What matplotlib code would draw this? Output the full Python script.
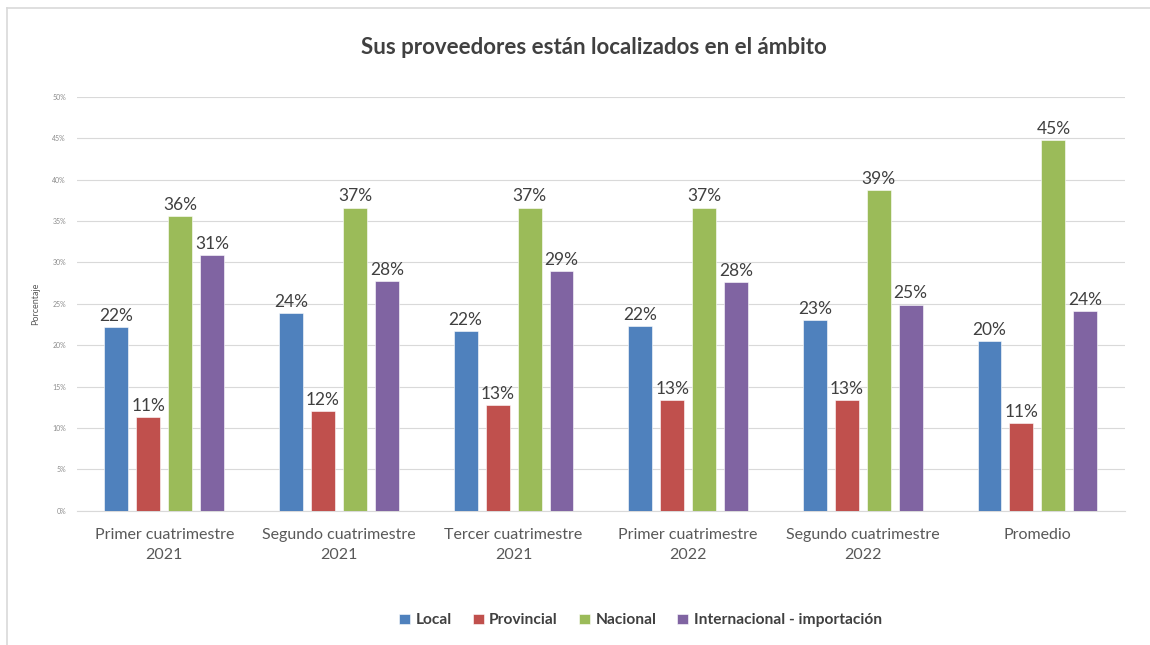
"""Grouped bar chart: ámbito de los proveedores por cuatrimestre."""

import matplotlib

matplotlib.use("Agg")

import matplotlib.pyplot as plt
import numpy as np
from matplotlib.lines import Line2D
from matplotlib.ticker import PercentFormatter

periods = [
    "Primer cuatrimestre\n2021",
    "Segundo cuatrimestre\n2021",
    "Tercer cuatrimestre\n2021",
    "Primer cuatrimestre\n2022",
    "Segundo cuatrimestre\n2022",
    "Promedio",
]
series = ["Local", "Provincial", "Nacional", "Internacional - importación"]
local = [0.222, 0.239, 0.217, 0.223, 0.230, 0.205]
provincial = [0.113, 0.120, 0.128, 0.134, 0.134, 0.106]
nacional = [0.356, 0.366, 0.366, 0.366, 0.387, 0.448]
internacional = [0.309, 0.277, 0.289, 0.276, 0.249, 0.241]
colors = ["#4F81BD", "#C0504D", "#9BBB59", "#8064A2"]

plt.rcParams["font.family"] = ["Lato", "DejaVu Sans"]

fig = plt.figure(figsize=(11.5, 6.45), dpi=100)
ax = fig.add_axes([0.067, 0.208, 0.911, 0.642])

x = np.arange(len(periods))
step = 0.183
width = 0.137
values = [local, provincial, nacional, internacional]
for i, (name, vals, color) in enumerate(zip(series, values, colors)):
    pos = x + (i - 1.5) * step
    bars = ax.bar(pos, vals, width=width, color=color, label=name,
                  edgecolor="white", linewidth=0.4, zorder=3)
    for b, v in zip(bars, vals):
        ax.text(b.get_x() + b.get_width() / 2, v + 0.004, f"{v * 100:.0f}%",
                ha="center", va="bottom", fontsize=12.5, color="#404040")

ax.set_xlim(-0.5, len(periods) - 0.5)
ax.set_ylim(0, 0.5)
ax.set_yticks(np.arange(0, 0.51, 0.05))
ax.yaxis.set_major_formatter(PercentFormatter(1.0, decimals=0))
ax.set_xticks(x)
ax.set_xticklabels(periods, fontsize=11.5, color="#595959", linespacing=1.55)
ax.tick_params(axis="y", labelsize=5, colors="#8c8c8c", length=0, pad=8)
ax.tick_params(axis="x", length=0, pad=12)
ax.grid(axis="y", color="#d9d9d9", linewidth=0.8, zorder=0)
for side in ["top", "right", "left"]:
    ax.spines[side].set_visible(False)
ax.spines["bottom"].set_color("#d9d9d9")
ax.set_ylabel("Porcentaje", fontsize=6.5, color="#595959", labelpad=9)

fig.text(0.516, 0.927, "Sus proveedores están localizados en el ámbito",
         ha="center", va="center", fontsize=16, fontweight="bold", color="#404040")

leg = fig.legend(loc="center", bbox_to_anchor=(0.557, 0.038), ncol=4, frameon=False,
                 handlelength=0.7, handleheight=0.7, handletextpad=0.35, columnspacing=1.35,
                 prop={"size": 11.2, "weight": "bold"})
for t in leg.get_texts():
    t.set_color("#404040")

# chart frame: only the left and top edges show in the screenshot
fig.add_artist(Line2D([0.006, 0.006], [0.0, 0.988], transform=fig.transFigure,
                      color="#d9d9d9", linewidth=1.2))
fig.add_artist(Line2D([0.006, 1.0], [0.988, 0.988], transform=fig.transFigure,
                      color="#d9d9d9", linewidth=1.2))

fig.savefig("out.png", dpi=100)
